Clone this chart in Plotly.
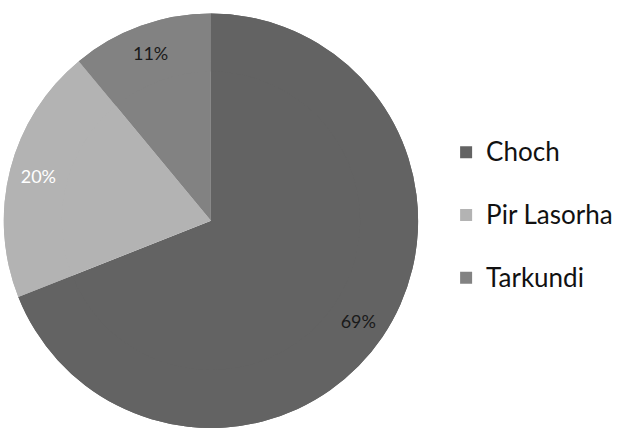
import plotly.graph_objects as go

categories = ["Choch", "Pir Lasorha", "Tarkundi"]
values = [69, 20, 11]
colors = ["#636363", "#b3b3b3", "#828282"]
text_colors = ["#1a1a1a", "#ffffff", "#1a1a1a"]

legend_labels = ["<span style='font-size:26px'>" + c + "</span><br> " for c in categories]
domain = dict(x=[0.006, 0.6626], y=[0.0137, 0.976])

fig = go.Figure()
# full pie body
fig.add_trace(go.Pie(
    labels=legend_labels,
    values=values,
    sort=False,
    direction="clockwise",
    rotation=0,
    marker=dict(colors=colors, line=dict(width=0)),
    textinfo="none",
    hoverinfo="skip",
    showlegend=False,
    domain=domain,
))
# outer ring carrying the percentage labels near the rim
fig.add_trace(go.Pie(
    labels=legend_labels,
    values=values,
    customdata=categories,
    sort=False,
    direction="clockwise",
    rotation=0,
    hole=0.72,
    marker=dict(colors=colors, line=dict(width=0)),
    textinfo="percent",
    texttemplate="%{percent:.0%}",
    textposition="inside",
    insidetextorientation="horizontal",
    textfont=dict(family="Lato", size=18, color=text_colors),
    hovertemplate="%{customdata}: %{percent:.0%}<extra></extra>",
    domain=domain,
))

fig.update_layout(
    width=631, height=437,
    margin=dict(l=0, r=0, t=0, b=0),
    paper_bgcolor="white",
    showlegend=True,
    legend=dict(
        x=0.707, y=0.473, xanchor="left", yanchor="middle",
        font=dict(family="Lato", size=23, color="#111111"),
        valign="top",
        itemwidth=30,
    ),
)

fig.write_html("out.html")
